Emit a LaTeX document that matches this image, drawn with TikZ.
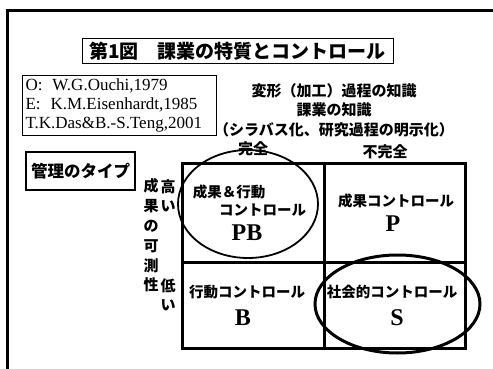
\documentclass[tikz,border=0pt]{standalone}
\usepackage{fontspec}
\setmainfont{Liberation Serif}
\newfontfamily\jp{Noto Sans CJK JP}
\usetikzlibrary{shapes.geometric}
\begin{document}
\begin{tikzpicture}[x=1pt,y=-1pt,
  jpt/.style={font=\jp\bfseries\fontsize{#1}{#1}\selectfont, inner sep=0pt},
  jpt/.default=14.5,
  big/.style={font=\bfseries\fontsize{24}{24}\selectfont, inner sep=0pt},
  thinbox/.style={draw, line width=1pt, inner sep=0pt},
  cell/.style={draw, line width=3pt, inner sep=0pt},
  oval/.style={draw, ellipse, inner sep=0pt}]
\useasboundingbox (0,0) rectangle (493,369);
% outer frame
\coordinate (fb) at (7,369);
\coordinate (fc) at (7,11);
\coordinate (fr) at (493,11);
\draw[line width=3pt] (fb) -- (fc) -- (fr);
% title
\node[thinbox, minimum width=311pt, minimum height=25pt,
      font=\jp\bfseries\fontsize{19}{19}\selectfont] (title) at (237.5,51.5)
  {第1図　課業の特質とコントロール};
% references
\node[thinbox, minimum width=193pt, minimum height=60pt, anchor=north west,
      align=left, text width=188pt, inner xsep=3pt,
      font=\fontsize{17}{19}\selectfont] (refs) at (22,75)
  {O:\hspace{10pt}W.G.Ouchi,1979\\E:\hspace{10pt}K.M.Eisenhardt,1985\\T.K.Das\&B.-S.Teng,2001};
% header
\node[jpt=15, align=center, font=\jp\bfseries\fontsize{15}{19.5}\selectfont] (head) at (334,110)
  {変形（加工）過程の知識\\課業の知識\\（シラバス化、研究過程の明示化）};
\node[jpt=15] (full) at (253,149) {完全};
\node[jpt=15] (notfull) at (385,152) {不完全};
% management type
\node[thinbox, line width=1.2pt, minimum width=109pt, minimum height=38pt,
      font=\jp\bfseries\fontsize{16.5}{16.5}\selectfont] (mtype) at (80.5,171) {管理のタイプ};
% vertical labels
\node[jpt=15, align=center, font=\jp\bfseries\fontsize{15}{19.8}\selectfont] (measure) at (151,235.5)
  {成\\果\\の\\可\\測\\性};
\node[jpt=15, align=center, font=\jp\bfseries\fontsize{15}{19}\selectfont] (high) at (168,195.5) {高\\い};
\node[jpt=15, align=center, font=\jp\bfseries\fontsize{15}{19}\selectfont] (low) at (168,294.5) {低\\い};
% grid cells
\node[cell, minimum width=142pt, minimum height=99pt] (cPB) at (253,212.5) {};
\node[cell, minimum width=141pt, minimum height=99pt] (cP) at (394.5,212.5) {};
\node[cell, minimum width=142pt, minimum height=86pt] (cB) at (253,305) {};
\node[cell, minimum width=141pt, minimum height=86pt] (cS) at (394.5,305) {};
% ovals
\node[oval, line width=1.8pt, minimum width=140pt, minimum height=108pt] (oPB) at (248,204) {};
\node[oval, line width=3pt, minimum width=165pt, minimum height=98pt] (oS) at (397.5,304) {};
% cell texts
\node[jpt] (tPB1) at (229,192) {成果＆行動};
\node[jpt] (tPB2) at (262.5,210) {コントロール};
\node[big] (lPB) at (247,233) {PB};
\node[jpt] (tP) at (396,201) {成果コントロール};
\node[big] (lP) at (393,224) {P};
\node[jpt] (tB) at (247,292) {行動コントロール};
\node[big] (lB) at (243,318) {B};
\node[jpt] (tS) at (392,292) {社会的コントロール};
\node[big] (lS) at (397,318) {S};
\end{tikzpicture}
\end{document}
